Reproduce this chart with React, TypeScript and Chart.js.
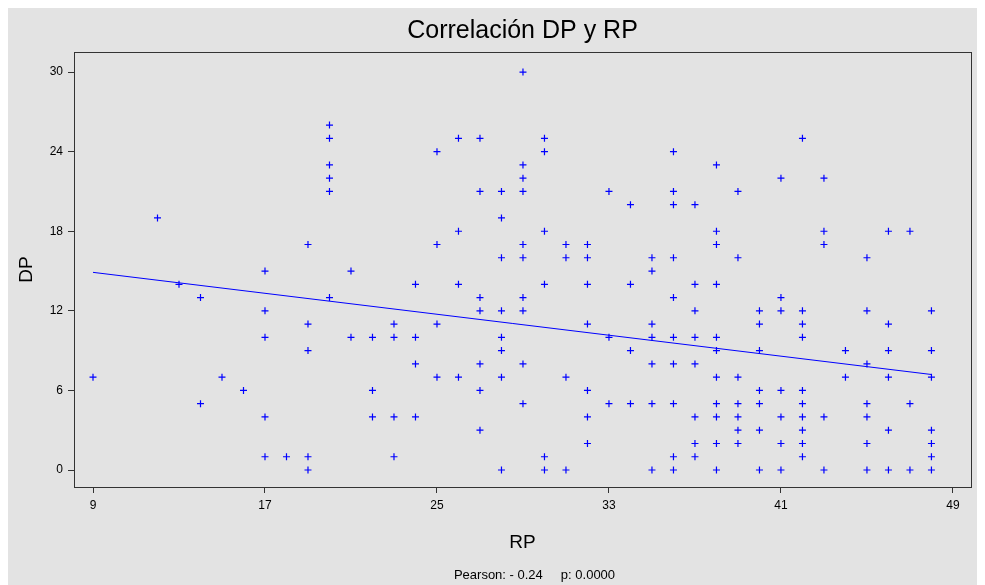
import React, { useEffect, useRef } from "react";
import { Chart, registerables } from "chart.js";

Chart.register(...registerables);

// RP values (x) and the DP values (y) observed at each RP value
const rpGroups: number[] = [9, 12, 13, 14, 15, 16, 17, 18, 19, 20, 21, 22, 23, 24, 25, 26, 27, 28, 29, 30, 31, 32, 33, 34, 35, 36, 37, 38, 39, 40, 41, 42, 43, 44, 45, 46, 47, 48];
const dpGroups: number[][] = [
  [7],
  [19],
  [14],
  [13, 5],
  [7],
  [6],
  [15, 12, 10, 4, 1],
  [1],
  [17, 11, 9, 1, 0],
  [26, 25, 23, 22, 21, 13],
  [15, 10],
  [10, 6, 4],
  [11, 10, 4, 1],
  [14, 10, 8, 4],
  [24, 17, 11, 7],
  [25, 18, 14, 7],
  [25, 21, 13, 12, 8, 6, 3],
  [21, 19, 16, 12, 10, 9, 7, 0],
  [30, 23, 22, 21, 17, 16, 13, 12, 8, 5],
  [25, 24, 18, 14, 1, 0],
  [17, 16, 7, 0],
  [17, 16, 14, 11, 6, 4, 2],
  [21, 10, 5],
  [20, 14, 9, 5],
  [16, 15, 11, 10, 8, 5, 0],
  [24, 21, 20, 16, 13, 10, 8, 5, 1, 0],
  [20, 14, 12, 10, 8, 4, 2, 1],
  [23, 18, 17, 14, 10, 9, 7, 5, 4, 2, 0],
  [21, 16, 7, 5, 4, 3, 2],
  [12, 11, 9, 6, 5, 3, 0],
  [22, 13, 12, 6, 4, 2, 0],
  [25, 12, 11, 10, 6, 5, 4, 3, 2, 1],
  [22, 18, 17, 4, 0],
  [9, 7],
  [16, 12, 8, 5, 4, 2, 0],
  [18, 11, 9, 7, 3, 0],
  [18, 5, 0],
  [12, 9, 7, 3, 2, 1, 0],
];

// Fitted line end points
const fitRP: number[] = [9, 48];
const fitDP: number[] = [14.9, 7.2];

const xTicks: number[] = [9, 17, 25, 33, 41, 49];
const yTicks: number[] = [0, 6, 12, 18, 24, 30];

const titleText = "Correlación DP y RP";
const footerText = "Pearson: - 0.24     p: 0.0000";
const xTitle = "RP";
const yTitle = "DP";

const FONT = "'Liberation Sans', Arial, sans-serif";
const BG = "#e3e3e3";
const FRAME = "#333333";

export default function App() {
  const ref = useRef<HTMLCanvasElement | null>(null);

  useEffect(() => {
    if (!ref.current) return;
    document.documentElement.style.overflow = "hidden";
    document.body.style.overflow = "hidden";
    const points: { x: number; y: number }[] = [];
    rpGroups.forEach((rp, i) => {
      dpGroups[i].forEach((dp) => points.push({ x: rp, y: dp }));
    });
    const fit = fitRP.map((x, i) => ({ x, y: fitDP[i] }));

    const decor = {
      id: "decor",
      beforeDraw(chart: any) {
        const { ctx, width, height } = chart;
        ctx.save();
        ctx.fillStyle = BG;
        ctx.fillRect(0, 0, width, height);
        ctx.restore();
      },
      afterDraw(chart: any) {
        const { ctx, chartArea } = chart;
        ctx.save();
        ctx.strokeStyle = FRAME;
        ctx.lineWidth = 1;
        ctx.strokeRect(
          Math.round(chartArea.left) + 0.5,
          Math.round(chartArea.top) + 0.5,
          Math.round(chartArea.right - chartArea.left),
          Math.round(chartArea.bottom - chartArea.top)
        );
        const cx = (chartArea.left + chartArea.right) / 2;
        ctx.fillStyle = "#000";
        ctx.textAlign = "center";
        ctx.textBaseline = "middle";
        ctx.font = `25px ${FONT}`;
        ctx.fillText(titleText, cx, 23);
        ctx.font = `13px ${FONT}`;
        ctx.fillText(footerText, cx + 12, 567);
        ctx.restore();
      },
    };

    const chart = new Chart(ref.current, {
      type: "scatter",
      data: {
        datasets: [
          {
            type: "scatter",
            data: points,
            pointStyle: "cross",
            pointRadius: 3.5,
            pointBorderWidth: 1.2,
            borderColor: "#0000ff",
            backgroundColor: "#0000ff",
          },
          {
            type: "line",
            data: fit,
            borderColor: "#0000ff",
            borderWidth: 1,
            pointRadius: 0,
            fill: false,
          },
        ],
      },
      plugins: [decor],
      options: {
        animation: false,
        responsive: true,
        maintainAspectRatio: false,
        layout: { padding: { top: 44, right: 11, left: 0, bottom: 0 } },
        plugins: {
          legend: { display: false },
          tooltip: { enabled: false },
          title: { display: false },
        },
        scales: {
          x: {
            type: "linear",
            min: 8.116,
            max: 49.84,
            afterBuildTicks: (s: any) => {
              s.ticks = xTicks.map((v) => ({ value: v }));
            },
            afterFit: (s: any) => {
              s.height = 98;
            },
            grid: { drawOnChartArea: false, drawTicks: true, tickLength: 6, color: FRAME },
            border: { display: false },
            ticks: { color: "#000", font: { family: FONT, size: 12 }, padding: 5, maxRotation: 0 },
            title: {
              display: true,
              text: xTitle,
              color: "#000",
              font: { family: FONT, size: 19 },
              padding: { top: 0, bottom: 31 },
            },
          },
          y: {
            type: "linear",
            min: -1.28,
            max: 31.51,
            afterBuildTicks: (s: any) => {
              s.ticks = yTicks.map((v) => ({ value: v }));
            },
            afterFit: (s: any) => {
              s.width = 66;
            },
            grid: { drawOnChartArea: false, drawTicks: true, tickLength: 6, color: FRAME },
            border: { display: false },
            ticks: { color: "#000", font: { family: FONT, size: 12 }, padding: 5 },
            title: {
              display: true,
              text: yTitle,
              color: "#000",
              font: { family: FONT, size: 19 },
              padding: { top: 7, bottom: 0 },
            },
          },
        },
      },
    });
    return () => chart.destroy();
  }, []);

  return (
    <div style={{ width: 974, height: 577, position: "relative" }}>
      <canvas ref={ref} />
    </div>
  );
}
